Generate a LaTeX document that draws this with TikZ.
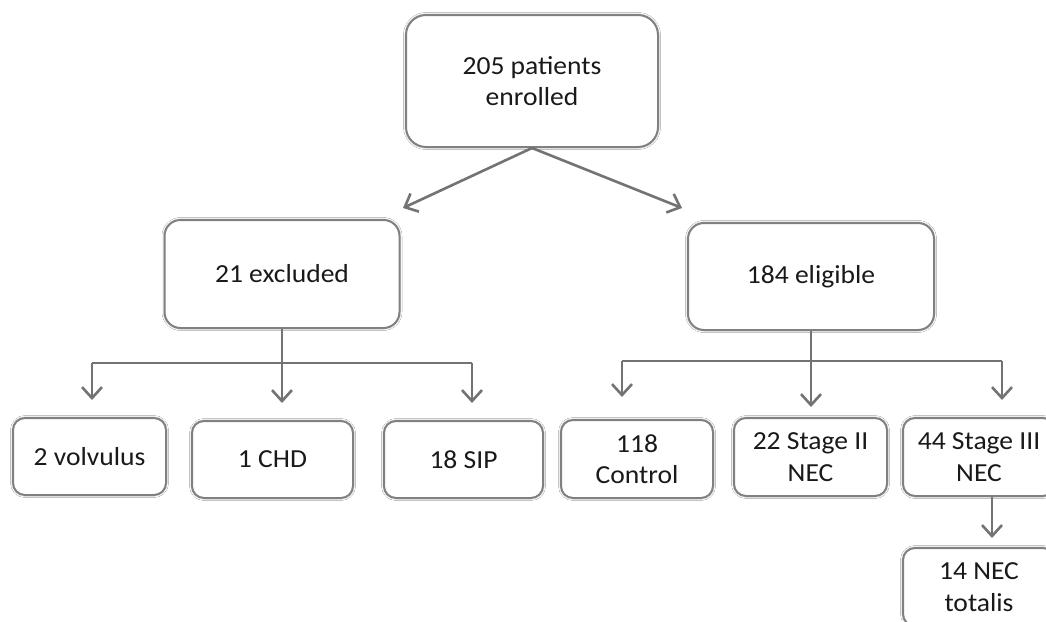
\documentclass[tikz,border=0pt]{standalone}
\usepackage{fontspec}
\setmainfont{Carlito}[FakeStretch=1.06]
\usepackage{tikz}
\usetikzlibrary{arrows.meta,shadows.blur}
\tikzset{
   box/.style={draw=black!50, line width=2pt, fill=white, rounded corners=16pt,
               align=center, inner sep=0pt, text=black!90,
               blur shadow={shadow xshift=0pt, shadow yshift=0pt, shadow blur radius=2.5pt, shadow opacity=35},
               font=\fontsize{26}{31.5}\selectfont},
   smallbox/.style={box, rounded corners=12pt, minimum height=77pt, minimum width=154pt},
   flow/.style={draw=black!55, line width=2.6pt, -{Straight Barb[length=11pt,width=20pt,line width=2.6pt]}},
   bar/.style={draw=black!55, line width=2.6pt}
}

\begin{document}
\begin{tikzpicture}[x=1pt,y=-1pt]
\clip (0,0) rectangle (1046,621);
\fill[white] (0,0) rectangle (1046,621);

% top
\node[box, minimum width=252pt, minimum height=132pt, rounded corners=20pt] (enrolled) at (532,81) {205 patients\\enrolled};

% second row
\node[box, minimum width=235pt, minimum height=108pt] (excluded) at (282,274) {21 excluded};
\node[box, minimum width=246pt, minimum height=107pt] (eligible) at (811,276.5) {184 eligible};

% bottom row
\node[smallbox, minimum width=153pt] (volvulus) at (89.5,456.5) {2 volvulus};
\node[smallbox, minimum width=161pt] (chd) at (272.5,459.5) {1 CHD};
\node[smallbox, minimum width=159pt] (sip) at (463.5,459.5) {18 SIP};
\node[smallbox, minimum width=152pt, minimum height=78pt] (control) at (637,459) {118\\Control};
\node[smallbox, minimum width=153pt, minimum height=78pt] (stageII) at (810.5,457) {22 Stage II\\NEC};
\node[smallbox, minimum width=152pt, minimum height=78pt] (stageIII) at (979,457) {44 Stage III\\NEC};
\node[smallbox, minimum width=152pt, minimum height=78pt] (totalis) at (979,587) {14 NEC\\totalis};

% free ends
\coordinate (exclTip) at (403,208);
\coordinate (eligTip) at (682,208);
\coordinate (exclBar) at (282,363);
\coordinate (eligBar) at (811,361);
\coordinate (volTip) at (92,400);
\coordinate (chdTip) at (282,403);
\coordinate (sipTip) at (472,403);
\coordinate (conTip) at (622,397);
\coordinate (stIITip) at (811,407);
\coordinate (stIIITip) at (1002,400);
\coordinate (totTip) at (992,538);

\path
(enrolled.south) edge[flow] (exclTip)
                 edge[flow] (eligTip)
(excluded.south) edge[flow] (chdTip)
(eligible.south) edge[flow] (stIITip)
(stageIII.south -| totTip) edge[flow] (totTip)
      ;

\draw[bar] (volTip |- exclBar) -- (sipTip |- exclBar);
\draw[bar] (conTip |- eligBar) -- (stIIITip |- eligBar);
\path
(volTip |- exclBar) edge[flow] (volTip)
(sipTip |- exclBar) edge[flow] (sipTip)
(conTip |- eligBar) edge[flow] (conTip)
(stIIITip |- eligBar) edge[flow] (stIIITip)
;

\end{tikzpicture}
\end{document}
